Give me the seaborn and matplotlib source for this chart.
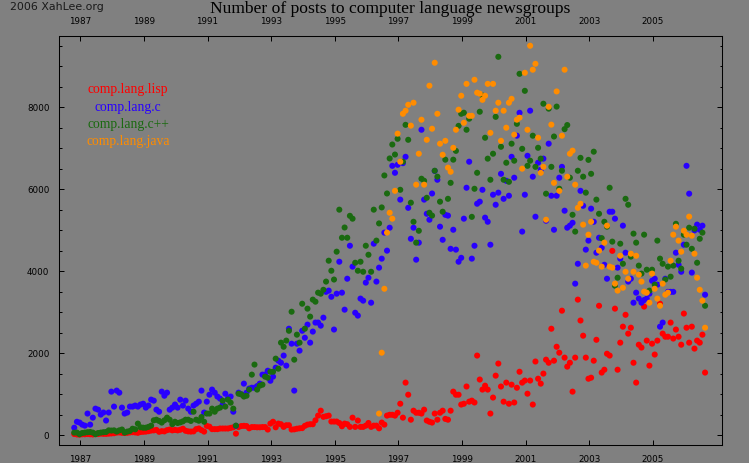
import matplotlib
matplotlib.use("Agg")
import matplotlib.pyplot as plt
from matplotlib.ticker import MultipleLocator
import numpy as np
import pandas as pd
import seaborn as sns

# monthly post counts
first_year = 1986.81
java_first_month = 115

lisp = [
    30, 20, 15, 25, 25, 30, 25, 20, 35, 30,
    40, 35, 35, 40, 45, 50, 65, 70, 60, 55,
    60, 70, 75, 70, 60, 80, 85, 90, 100, 115,
    120, 130, 85, 100, 95, 125, 140, 120, 130, 120,
    135, 160, 110, 95, 90, 95, 150, 165, 125, 90,
    230, 210, 150, 150, 150, 165, 165, 165, 165, 180,
    195, 40, 200, 225, 230, 225, 170, 200, 200, 195,
    195, 200, 200, 140, 285, 330, 195, 285, 270, 205,
    245, 245, 140, 145, 160, 170, 175, 230, 260, 270,
    270, 365, 480, 600, 450, 465, 480, 335, 335, 335,
    300, 220, 285, 270, 205, 430, 205, 360, 205, 205,
    235, 300, 205, 235, 235, 170,
    310, 260, 480, 500, 500, 480, 550, 770, 430, 1285,
    990, 380, 600, 550, 550, 530, 625, 360, 330, 310,
    530, 380, 550, 600, 400, 380, 600, 1065, 990, 990,
    750, 770, 1190, 820, 845, 800, 1945, 1360, 1115, 1210,
    1115, 530, 920, 1455, 1750, 1190, 820, 1285, 770, 1235,
    800, 1160, 1550, 1285, 1335, 1015, 1335, 750, 1800, 1380,
    1260, 1505, 1845, 1770,
    2600, 1820, 2160, 2015, 3040, 1895, 1675, 1770, 1065, 1895,
    3310, 2800, 2430, 1895, 1380, 1405, 1820, 2330, 3160, 1530,
    1600, 1990, 1945, 4500, 3090, 1600, 2260, 2650, 2940, 2480,
    2625, 1770, 1285, 2210, 2140, 3140, 2310, 1700, 2235, 1970,
    2310, 3210, 2480, 2405, 2405, 2750, 2360, 2580, 2405, 2210,
    2970, 2625, 2260, 2650, 2115, 2310, 2260, 2455, 1530,
]

lang_c = [
    185, 330, 310, 260, 235, 530, 260, 430, 650, 625,
    505, 555, 360, 555, 1065, 700, 1090, 1040, 675, 530,
    555, 700, 700, 725, 700, 750, 770, 675, 725, 870,
    845, 625, 575, 1065, 965, 1040, 625, 675, 750, 675,
    870, 725, 845, 650, 575, 725, 770, 820, 1090, 555,
    820, 990, 1115, 1040, 945, 895, 750, 1015, 900, 945,
    575, 230, 1040, 1000, 1260, 1040, 1140, 1160, 1160, 1200,
    1260, 1480, 1480, 1575, 1330, 1430, 1650, 1820, 1770, 1945,
    1700, 2600, 2235, 1090, 2235, 2065, 2550, 2380, 2700, 2260,
    2530, 2750, 2750, 2675, 2870, 3500, 3530, 3380, 2580, 3455,
    4235, 3480, 3065, 3820, 4625, 4115, 2990, 2920, 3335, 3285,
    3725, 3845, 3235, 4675, 3750, 4090,
    4310, 4945, 4505, 5065, 6575, 6405, 6600, 5750, 6640, 6795,
    5550, 4795, 5065, 4285, 4700, 7455, 5750, 5405, 5260, 5900,
    6450, 6235, 5090, 4770, 5380, 5360, 4550, 5015, 4530, 4235,
    4330, 5285, 6040, 6675, 4310, 4625, 5650, 5700, 5990, 5310,
    5210, 4650, 5870, 5625, 5920, 6380, 5770, 6210, 5845, 6795,
    6285, 7310, 7870, 4970, 5870, 6820, 7920, 6310, 5333, 6650,
    6480, 6750, 5235, 7115,
    5845, 5015, 5845, 6285, 6550, 5480, 5065, 5115, 5185, 3700,
    4185, 5965, 5600, 4530, 4750, 5530, 5210, 4455, 4820, 4575,
    4160, 3820, 5455, 5455, 5285, 4090, 4310, 5115, 4455, 3750,
    3820, 3235, 3480, 3335, 3235, 3300, 3335, 3455, 3770, 3820,
    3675, 2650, 2750, 3820, 3500, 3500, 3500, 4455, 4160, 3990,
    4650, 6575, 5895, 3970, 5000, 5140, 5015, 5115, 3430,
]

lang_cpp = [
    65, 65, 25, 55, 65, 75, 80, 65, 25, 55,
    65, 75, 80, 120, 115, 120, 90, 120, 140, 65,
    90, 105, 160, 145, 285, 195, 185, 185, 205, 235,
    365, 380, 350, 310, 365, 430, 380, 270, 330, 300,
    315, 340, 380, 380, 350, 575, 380, 355, 445, 330,
    530, 530, 650, 575, 650, 675, 845, 700, 870, 795,
    650, 235, 1015, 1000, 945, 965, 1115, 1480, 1725, 1115,
    1210, 1235, 1430, 1405, 1550, 1550, 1870, 1625, 2260, 2160,
    2310, 2550, 3015, 1845, 2455, 2260, 3210, 2600, 3090, 2895,
    3310, 3260, 3480, 3455, 3550, 3750, 4260, 4015, 3800, 4480,
    5505, 4820, 5070, 4820, 5355, 5285, 4210, 4015, 4235, 3990,
    4625, 4405, 3990, 5505, 4750, 5170,
    5560, 6340, 5900, 6755, 7095, 6850, 7235, 5990, 6675, 7575,
    7210, 5675, 5210, 4700, 4990, 6260, 6210, 5795, 5430, 5360,
    6455, 6310, 5700, 5455, 6725, 5770, 6160, 6725, 6940, 7550,
    7845, 7870, 7455, 7725, 5330, 6015, 6405, 7895, 8290, 7260,
    6750, 6235, 6870, 7770, 9235, 7040, 6235, 6650, 6185, 7115,
    6700, 7600, 8820, 6990, 8405, 6575, 6700, 7310, 6550, 7015,
    6750, 8090, 5895, 7970,
    6550, 7290, 8020, 6015, 6455, 7470, 7570, 6285, 5380, 4970,
    6455, 6770, 6310, 5920, 6720, 6380, 6920, 5750, 5405, 4810,
    5210, 5090, 6040, 4725, 3650, 3845, 4675, 4185, 5770, 5625,
    4360, 4920, 4700, 4140, 3945, 4895, 4040, 3530, 4040, 3675,
    4750, 4310, 4185, 3800, 4115, 3870, 4140, 5160, 4260, 4065,
    4895, 4650, 5065, 4550, 5040, 4210, 4795, 4945, 3160,
]

lang_java = [
    530,
    2015, 3575, 4945, 5430, 5285, 5965, 7360, 6675, 7845, 7920,
    8065, 7555, 8115, 6115, 6870, 7700, 6115, 7210, 8530, 7480,
    9090, 7845, 7115, 6845, 7185, 6530, 6430, 7015, 7455, 7945,
    8285, 7625, 8575, 7795, 7795, 8675, 8360, 8335, 8185, 8285,
    8575, 7380, 8575, 7920, 8115, 7185, 7920, 7505, 8115, 8210,
    7335, 7700, 7750, 6505, 8845, 7455, 9505, 8920, 9065, 7260,
    6405, 6550, 5260, 8015,
    7580, 6160, 8390, 5965, 7310, 8920, 6310, 6870, 6945, 6115,
    5550, 5650, 5140, 4140, 4895, 5210, 4235, 4210, 4505, 4115,
    4700, 5115, 4115, 4090, 3700, 3530, 4380, 3600, 3990, 3820,
    4430, 3990, 4380, 3920, 3750, 3505, 3480, 3235, 3945, 3575,
    3335, 3160, 3700, 3430, 3480, 4260, 4895, 5090, 4750, 4480,
    4990, 4895, 5335, 4870, 4430, 3845, 3550, 3285, 2625,
]

group_names = ["comp.lang.lisp", "comp.lang.c", "comp.lang.c++", "comp.lang.java"]
group_colors = ["#ff0000", "#2800ff", "#1a6a10", "#ff8c00"]
year_ticks = list(range(1987, 2006, 2))


def make_frame():
    rows = []
    for name, vals, start in zip(group_names,
                                 [lisp, lang_c, lang_cpp, lang_java],
                                 [0, 0, 0, java_first_month]):
        months = start + np.arange(len(vals))
        rows.append(pd.DataFrame({"year": first_year + months / 12,
                                  "posts": vals,
                                  "group": name}))
    return pd.concat(rows, ignore_index=True)


def main():
    sns.set_theme(style="ticks", rc={"figure.facecolor": "#808080",
                                     "axes.facecolor": "#808080",
                                     "savefig.facecolor": "#808080"})
    plt.rcParams["font.family"] = ["DejaVu Sans"]
    fig = plt.figure(figsize=(7.49, 4.63), dpi=100)
    ax = fig.add_axes([59.5 / 749, 1 - 444.5 / 463, 662 / 749, 409 / 463])

    sns.scatterplot(data=make_frame(), x="year", y="posts", hue="group",
                    hue_order=group_names, palette=group_colors,
                    s=19, linewidth=0, alpha=1, legend=False, ax=ax)

    ax.set_xlim(1986.346, 2007.16)
    ax.set_ylim(-225, 9755)
    ax.set_xlabel("")
    ax.set_ylabel("")

    ax.set_xticks(year_ticks)
    ax.yaxis.set_major_locator(MultipleLocator(2000))
    ax.yaxis.set_minor_locator(MultipleLocator(500))
    ax.tick_params(axis="both", which="major", direction="in", length=3.4,
                   width=0.72, top=True, right=True, labeltop=True,
                   labelsize=6.3, colors="black", pad=7.2)
    ax.tick_params(axis="y", which="minor", direction="in", length=1.8,
                   width=0.72, right=True, colors="black")
    for spine in ax.spines.values():
        spine.set_visible(True)
        spine.set_linewidth(0.75)
        spine.set_color("black")

    fig.text(390.5 / 749, 1 - 12.6 / 463,
             "Number of posts to computer language newsgroups",
             family="Liberation Serif", fontsize=12.6, color="black",
             ha="center", va="baseline")
    fig.text(10 / 749, 1 - 6.5 / 463, "2006 XahLee.org", fontsize=7.9,
             color="#1a1a1a", ha="left", va="center")

    for name, color, y in zip(group_names, group_colors, [89.5, 107, 125, 142]):
        fig.text(128 / 749, 1 - y / 463, name, family="Liberation Serif",
                 fontsize=9.8, color=color, ha="center", va="center")

    fig.savefig("out.png", dpi=100)


if __name__ == "__main__":
    main()
